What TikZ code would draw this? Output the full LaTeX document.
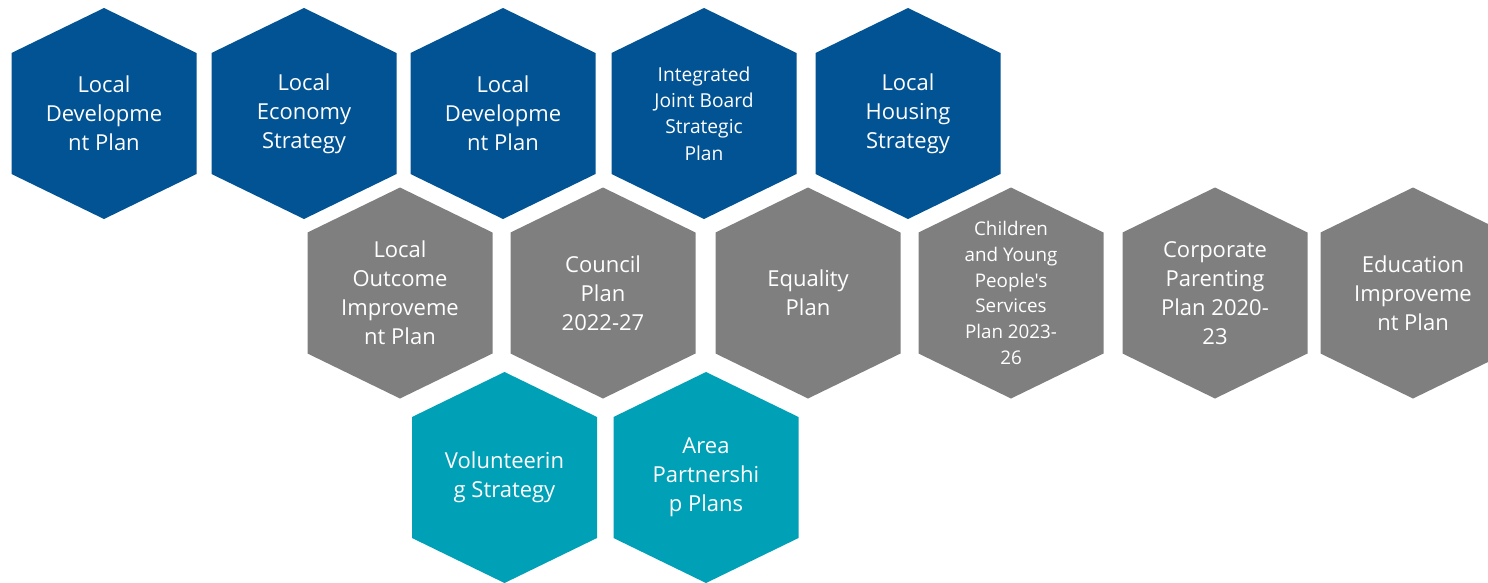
\documentclass[tikz,border=0pt]{standalone}
\usepackage{fontspec}
\setmainfont{Open Sans}[Ligatures=TeXOff]
\definecolor{hexblue}{RGB}{1,83,148}
\definecolor{hexgray}{RGB}{127,127,127}
\definecolor{hexteal}{RGB}{0,160,183}
\tikzset{
  hexlabel/.style={text=white, align=center, inner sep=0pt, font=\fontsize{22}{29}\selectfont},
  smalllabel/.style={font=\fontsize{18.8}{25.8}\selectfont},
  midlabel/.style={font=\fontsize{19.2}{26.3}\selectfont}
}
% #1 extra label options, #2 name, #3 cx, #4 cy, #5 colour, #6 text
\newcommand\hexcell[6][]{%
  \fill[#5] (#3-92.5,#4-60.5) -- (#3,#4-105.5) -- (#3+92.5,#4-60.5) -- (#3+92.5,#4+60.5) -- (#3,#4+105.5) -- (#3-92.5,#4+60.5) -- cycle;
  \node[hexlabel,#1] (#2) at (#3,#4) {#6};%
}
\begin{document}
\begin{tikzpicture}[x=1pt,y=-1pt]
\useasboundingbox (0,0) rectangle (1488,582);
\clip (0,0) rectangle (1488,582);
% row 1
\hexcell{ldp1}{104}{113.5}{hexblue}{Local\\Developme\\nt Plan}
\hexcell{les}{304}{113.5}{hexblue}{Local\\Economy\\Strategy}
\hexcell{ldp2}{503}{113.5}{hexblue}{Local\\Developme\\nt Plan}
\hexcell[midlabel]{ijb}{704}{113.5}{hexblue}{Integrated\\Joint Board\\Strategic\\Plan}
\hexcell{lhs}{908}{113.5}{hexblue}{Local\\Housing\\Strategy}
% row 2
\hexcell{loip}{400}{293}{hexgray}{Local\\Outcome\\Improveme\\nt Plan}
\hexcell{cp}{603}{293}{hexgray}{Council\\Plan\\2022-27}
\hexcell{eq}{808}{293}{hexgray}{Equality\\Plan}
\hexcell[smalllabel]{cyp}{1011}{293}{hexgray}{Children\\and Young\\People's\\Services\\Plan 2023-\\26}
\hexcell{corp}{1215}{293}{hexgray}{Corporate\\Parenting\\Plan 2020-\\23}
\hexcell{edu}{1413}{293}{hexgray}{Education\\Improveme\\nt Plan}
% row 3
\hexcell{vol}{504.5}{477.5}{hexteal}{Volunteerin\\g Strategy}
\hexcell{app}{706}{477.5}{hexteal}{Area\\Partnershi\\p Plans}
\end{tikzpicture}
\end{document}
